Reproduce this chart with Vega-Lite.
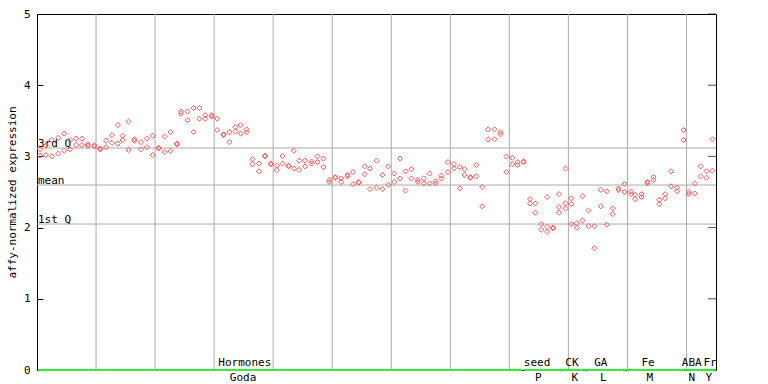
{
  "$schema": "https://vega.github.io/schema/vega-lite/v6.json",
  "width": 679,
  "height": 356,
  "autosize": "none",
  "padding": {"left": 37, "top": 14, "right": 52, "bottom": 14},
  "background": "white",
  "config": {"view": {"stroke": "black", "strokeWidth": 1}, "font": "DejaVu Sans Mono"},
  "datasets": {
    "pts": [
      {"x":0.5,"v":3.10},{"x":0.5,"v":3.015},{"x":1.5,"v":3.15},{"x":1.5,"v":3.02},{"x":2.5,"v":3.23},{"x":2.5,"v":3.00},
      {"x":3.6,"v":3.26},{"x":3.6,"v":3.04},{"x":4.6,"v":3.32},{"x":4.6,"v":3.08},{"x":5.6,"v":3.23},{"x":5.6,"v":3.10},
      {"x":6.6,"v":3.25},{"x":6.6,"v":3.16},{"x":7.6,"v":3.25},{"x":7.6,"v":3.16},{"x":8.6,"v":3.17},{"x":8.6,"v":3.15},
      {"x":9.7,"v":3.16},{"x":9.7,"v":3.14},{"x":10.7,"v":3.11},{"x":10.7,"v":3.10},{"x":11.7,"v":3.22},{"x":11.7,"v":3.13},
      {"x":12.7,"v":3.30},{"x":12.7,"v":3.19},{"x":13.7,"v":3.44},{"x":13.7,"v":3.18},{"x":14.5,"v":3.29},{"x":14.5,"v":3.23},
      {"x":15.5,"v":3.49},{"x":15.5,"v":3.09},{"x":16.5,"v":3.24},{"x":16.5,"v":3.22},{"x":17.6,"v":3.20},{"x":17.6,"v":3.10},
      {"x":18.6,"v":3.25},{"x":18.6,"v":3.13},{"x":19.6,"v":3.29},{"x":19.6,"v":3.02},{"x":20.6,"v":3.12},{"x":20.6,"v":3.11},
      {"x":21.6,"v":3.28},{"x":21.6,"v":3.06},{"x":22.6,"v":3.34},{"x":22.6,"v":3.08},{"x":23.7,"v":3.18},{"x":23.7,"v":3.17},
      {"x":24.4,"v":3.63},{"x":24.4,"v":3.60},{"x":25.5,"v":3.63},{"x":25.5,"v":3.51},{"x":26.5,"v":3.68},{"x":26.5,"v":3.34},
      {"x":27.5,"v":3.68},{"x":27.5,"v":3.53},{"x":28.5,"v":3.58},{"x":28.5,"v":3.53},{"x":29.6,"v":3.58},{"x":29.6,"v":3.56},
      {"x":30.5,"v":3.53},{"x":30.5,"v":3.37},{"x":31.6,"v":3.31},{"x":31.6,"v":3.30},{"x":32.6,"v":3.34},{"x":32.6,"v":3.20},
      {"x":33.6,"v":3.41},{"x":33.6,"v":3.35},{"x":34.5,"v":3.44},{"x":34.5,"v":3.32},{"x":35.5,"v":3.38},{"x":35.5,"v":3.34},
      {"x":36.5,"v":2.96},{"x":36.5,"v":2.89},{"x":37.6,"v":2.90},{"x":37.6,"v":2.79},{"x":38.6,"v":3.01},{"x":38.6,"v":3.00},
      {"x":39.6,"v":2.90},{"x":39.6,"v":2.89},{"x":40.6,"v":2.87},{"x":40.6,"v":2.81},{"x":41.6,"v":3.005},{"x":41.6,"v":2.90},
      {"x":42.6,"v":2.87},{"x":42.6,"v":2.86},{"x":43.5,"v":3.08},{"x":43.5,"v":2.83},{"x":44.4,"v":2.94},{"x":44.4,"v":2.81},
      {"x":45.4,"v":2.94},{"x":45.4,"v":2.86},{"x":46.5,"v":2.93},{"x":46.5,"v":2.90},{"x":47.5,"v":3.00},{"x":47.5,"v":2.92},
      {"x":48.5,"v":2.97},{"x":48.5,"v":2.85},{"x":49.5,"v":2.67},{"x":49.5,"v":2.64},{"x":50.5,"v":2.71},{"x":50.5,"v":2.70},
      {"x":51.5,"v":2.69},{"x":51.5,"v":2.64},{"x":52.6,"v":2.74},{"x":52.6,"v":2.72},{"x":53.5,"v":2.78},{"x":53.5,"v":2.61},
      {"x":54.5,"v":2.64},{"x":54.5,"v":2.63},{"x":55.5,"v":2.86},{"x":55.5,"v":2.75},{"x":56.4,"v":2.83},{"x":56.4,"v":2.54},
      {"x":57.5,"v":2.94},{"x":57.5,"v":2.56},{"x":58.5,"v":2.74},{"x":58.5,"v":2.54},{"x":59.5,"v":2.86},{"x":59.5,"v":2.60},
      {"x":60.5,"v":2.76},{"x":60.5,"v":2.64},{"x":61.5,"v":2.97},{"x":61.5,"v":2.69},{"x":62.4,"v":2.79},{"x":62.4,"v":2.52},
      {"x":63.4,"v":2.82},{"x":63.4,"v":2.69},{"x":64.5,"v":2.67},{"x":64.5,"v":2.64},{"x":65.5,"v":2.69},{"x":65.5,"v":2.62},
      {"x":66.5,"v":2.76},{"x":66.5,"v":2.62},{"x":67.5,"v":2.65},{"x":67.5,"v":2.62},{"x":68.5,"v":2.73},{"x":68.5,"v":2.69},
      {"x":69.6,"v":2.92},{"x":69.6,"v":2.78},{"x":70.6,"v":2.89},{"x":70.6,"v":2.83},{"x":71.6,"v":2.85},{"x":71.6,"v":2.55},
      {"x":72.4,"v":2.82},{"x":72.4,"v":2.74},{"x":73.4,"v":2.71},{"x":73.4,"v":2.70},{"x":74.4,"v":2.88},{"x":74.4,"v":2.72},
      {"x":75.4,"v":2.57},{"x":75.4,"v":2.30},{"x":76.4,"v":3.38},{"x":76.4,"v":3.24},{"x":77.5,"v":3.38},{"x":77.5,"v":3.24},
      {"x":78.5,"v":3.34},{"x":78.5,"v":3.31},{"x":79.5,"v":3.00},{"x":79.5,"v":2.78},{"x":80.5,"v":2.98},{"x":80.5,"v":2.89},
      {"x":81.4,"v":2.92},{"x":81.4,"v":2.88},{"x":82.4,"v":2.93},{"x":82.4,"v":2.92},{"x":83.5,"v":2.40},{"x":83.5,"v":2.34},
      {"x":84.4,"v":2.34},{"x":84.4,"v":2.21},{"x":85.4,"v":2.05},{"x":85.4,"v":1.97},{"x":86.4,"v":2.43},{"x":86.4,"v":2.01},
      {"x":86.4,"v":1.94},{"x":87.4,"v":2.00},{"x":87.4,"v":1.99},{"x":88.4,"v":2.47},{"x":88.4,"v":2.29},{"x":88.4,"v":2.21},
      {"x":89.5,"v":2.83},{"x":89.5,"v":2.34},{"x":89.5,"v":2.27},{"x":90.5,"v":2.41},{"x":90.5,"v":2.33},{"x":90.5,"v":2.05},
      {"x":91.4,"v":2.06},{"x":91.4,"v":2.00},{"x":92.4,"v":2.44},{"x":92.4,"v":2.10},{"x":93.4,"v":2.24},{"x":93.4,"v":2.02},
      {"x":94.4,"v":2.02},{"x":94.4,"v":1.71},{"x":95.5,"v":2.53},{"x":95.5,"v":2.30},{"x":96.5,"v":2.51},{"x":96.5,"v":2.04},
      {"x":97.5,"v":2.27},{"x":97.5,"v":2.19},{"x":98.5,"v":2.55},{"x":98.5,"v":2.53},{"x":99.5,"v":2.61},{"x":99.5,"v":2.50},
      {"x":100.6,"v":2.51},{"x":100.6,"v":2.47},{"x":101.3,"v":2.46},{"x":101.3,"v":2.40},{"x":102.4,"v":2.47},{"x":102.4,"v":2.43},
      {"x":103.4,"v":2.64},{"x":103.4,"v":2.62},{"x":104.4,"v":2.71},{"x":104.4,"v":2.67},{"x":105.4,"v":2.39},{"x":105.4,"v":2.33},
      {"x":106.4,"v":2.47},{"x":106.4,"v":2.41},{"x":107.4,"v":2.79},{"x":107.4,"v":2.58},{"x":108.4,"v":2.56},{"x":108.4,"v":2.51},
      {"x":109.5,"v":3.37},{"x":109.5,"v":3.23},{"x":110.4,"v":2.50},{"x":110.4,"v":2.47},{"x":111.4,"v":2.62},{"x":111.4,"v":2.48},
      {"x":112.4,"v":2.86},{"x":112.4,"v":2.72},{"x":113.4,"v":2.79},{"x":113.4,"v":2.70},{"x":114.4,"v":3.24},{"x":114.4,"v":2.80}
    ],
    "grid": [{"x":10},{"x":20},{"x":30},{"x":40},{"x":50},{"x":60},{"x":70},{"x":80},{"x":90},{"x":100},{"x":110}],
    "rticks": [{"t":0},{"t":1},{"t":2},{"t":3},{"t":4},{"t":5}],
    "q": [{"y":3.118,"label":"3rd Q"},{"y":2.598,"label":"mean"},{"y":2.05,"label":"1st Q"}],
    "seg": [
      {"x":0.3,"x2":82.0,"top":"Hormones","bottom":"Goda","tx":35.2,"bx":34.9},
      {"x":82.6,"x2":88.9,"top":"seed","bottom":"P","tx":84.7,"bx":84.9},
      {"x":89.2,"x2":92.8,"top":"CK","bottom":"K","tx":90.6,"bx":91.1},
      {"x":93.2,"x2":99.6,"top":"GA","bottom":"L","tx":95.5,"bx":95.9},
      {"x":100.0,"x2":109.8,"top":"Fe","bottom":"M","tx":103.5,"bx":103.8},
      {"x":110.1,"x2":112.5,"top":"ABA","bottom":"N","tx":110.9,"bx":110.9},
      {"x":112.8,"x2":114.8,"top":"Fr","bottom":"Y","tx":114.0,"bx":113.8}
    ]
  },
  "layer": [
    {
      "data": {"name": "grid"},
      "mark": {"type": "rule", "color": "#aaaaaa", "strokeWidth": 1},
      "encoding": {
        "x": {"field": "x", "type": "quantitative", "scale": {"domain": [0, 115], "nice": false, "zero": false}, "axis": null}
      }
    },
    {
      "data": {"name": "q"},
      "mark": {"type": "rule", "color": "#aaaaaa", "strokeWidth": 1},
      "encoding": {
        "y": {"field": "y", "type": "quantitative", "scale": {"domain": [0, 5], "nice": false},
              "axis": {"orient": "left", "values": [0,1,2,3,4,5], "grid": false, "title": "affy-normalized expression",
                       "titleFont": "DejaVu Sans Mono", "titleFontSize": 11, "titleFontWeight": "normal", "titleColor": "black", "titlePadding": 6,
                       "labelFont": "DejaVu Sans Mono", "labelFontSize": 11, "labelColor": "black", "labelPadding": 13,
                       "tickSize": -6, "tickColor": "black", "domainColor": "black", "format": "d"}}
      }
    },
    {
      "data": {"name": "q"},
      "mark": {"type": "text", "align": "left", "baseline": "bottom", "dx": 1, "dy": 1, "fontSize": 11, "font": "DejaVu Sans Mono", "color": "black"},
      "encoding": {
        "x": {"datum": 0, "type": "quantitative"},
        "y": {"field": "y", "type": "quantitative"},
        "text": {"field": "label"}
      }
    },
    {
      "data": {"name": "rticks"},
      "mark": {"type": "tick", "orient": "horizontal", "color": "black", "thickness": 1, "size": 8, "xOffset": -4},
      "encoding": {
        "x": {"datum": 115, "type": "quantitative"},
        "y": {"field": "t", "type": "quantitative"}
      }
    },
    {
      "data": {"name": "pts"},
      "mark": {"type": "point", "shape": "diamond", "filled": false, "size": 26, "strokeWidth": 1, "color": "#ff5555", "opacity": 1},
      "encoding": {
        "x": {"field": "x", "type": "quantitative"},
        "y": {"field": "v", "type": "quantitative"}
      }
    },
    {
      "data": {"name": "seg"},
      "mark": {"type": "rule", "color": "#33ee33", "strokeWidth": 2},
      "encoding": {
        "x": {"field": "x", "type": "quantitative"},
        "x2": {"field": "x2"},
        "y": {"datum": 0, "type": "quantitative"}
      }
    },
    {
      "data": {"name": "seg"},
      "mark": {"type": "point", "shape": "triangle-left", "filled": true, "size": 14, "color": "#33ee33", "opacity": 1},
      "encoding": {
        "x": {"field": "x", "type": "quantitative"},
        "y": {"datum": 0, "type": "quantitative"}
      }
    },
    {
      "data": {"name": "seg"},
      "mark": {"type": "point", "shape": "triangle-right", "filled": true, "size": 14, "color": "#33ee33", "opacity": 1},
      "encoding": {
        "x": {"field": "x2", "type": "quantitative"},
        "y": {"datum": 0, "type": "quantitative"}
      }
    },
    {
      "data": {"name": "seg"},
      "mark": {"type": "text", "baseline": "bottom", "align": "center", "dy": -2, "fontSize": 11, "font": "DejaVu Sans Mono", "color": "black"},
      "encoding": {
        "x": {"field": "tx", "type": "quantitative"},
        "y": {"datum": 0, "type": "quantitative"},
        "text": {"field": "top"}
      }
    },
    {
      "data": {"name": "seg"},
      "mark": {"type": "text", "baseline": "top", "align": "center", "dy": 2, "fontSize": 11, "font": "DejaVu Sans Mono", "color": "black"},
      "encoding": {
        "x": {"field": "bx", "type": "quantitative"},
        "y": {"datum": 0, "type": "quantitative"},
        "text": {"field": "bottom"}
      }
    }
  ]
}
